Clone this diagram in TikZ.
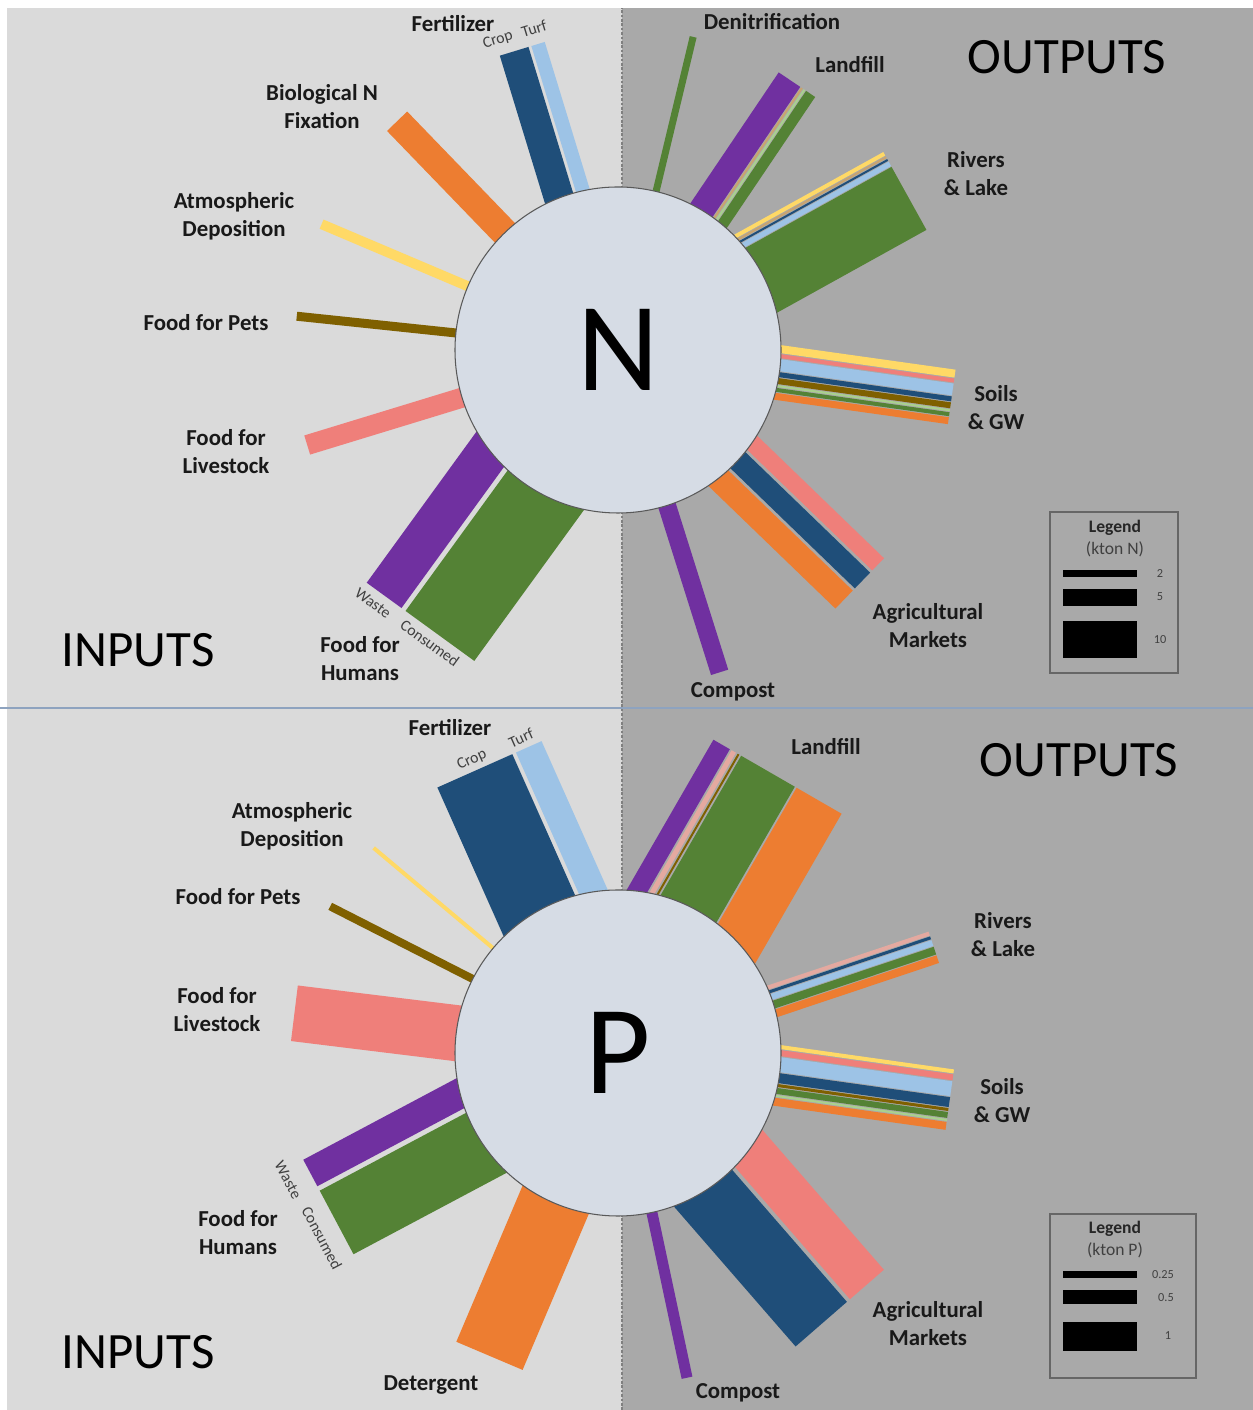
\documentclass[tikz,border=0pt]{standalone}
\usepackage{fontspec}
\setmainfont{Carlito}

\definecolor{leftbg}{HTML}{DADADA}
\definecolor{rightbg}{HTML}{A9A9A9}
\definecolor{core}{HTML}{D6DCE5}
\definecolor{divider}{HTML}{8EA3BF}
\definecolor{fdarkblue}{HTML}{1F4E79}
\definecolor{flightblue}{HTML}{9DC3E6}
\definecolor{forange}{HTML}{ED7D31}
\definecolor{fyellow}{HTML}{FFD966}
\definecolor{fbrown}{HTML}{7F6000}
\definecolor{fsalmon}{HTML}{EF7F7A}
\definecolor{fpurple}{HTML}{7030A0}
\definecolor{fgreen}{HTML}{548235}
\definecolor{flightgreen}{HTML}{A9D18E}
\definecolor{fpink}{HTML}{E4A9A0}
\definecolor{ftan}{HTML}{C9A46E}

% one straight flow bar: centre, angle, length, offset from, offset to, colour
\newcommand{\flowbar}[6]{%
  \fill[#6, shift={(#1)}, rotate=#2] (0,#4) rectangle (#3,#5);}

\begin{document}
\begin{tikzpicture}[x=0.2mm, y=0.2mm]

\tikzstyle{lbl}=[font=\fontsize{13}{16}\selectfont\bfseries, align=center, text=black!90]
\tikzstyle{sub}=[font=\fontsize{9}{10}\selectfont, text=black!75, inner sep=0pt]
\tikzstyle{side}=[font=\fontsize{29}{32}\selectfont, text=black]
\tikzstyle{elem}=[circle, draw=black!65, line width=0.6pt, fill=core, minimum size=65.2mm, inner sep=0pt, font=\fontsize{72}{72}\selectfont]
\tikzstyle{legbox}=[draw=black!60, line width=0.6pt]
\tikzstyle{legtitle}=[font=\fontsize{10}{12}\selectfont\bfseries, text=black!85]
\tikzstyle{legtxt}=[font=\fontsize{10}{12}\selectfont, text=black!75]
\tikzstyle{legnum}=[font=\fontsize{7}{8}\selectfont, text=black!75]

\useasboundingbox (0,0) rectangle (1253,1410);

% --- background ---
\fill[white] (0,0) rectangle (1253,1410);
\fill[leftbg] (7,0) rectangle (622,1402);
\fill[rightbg] (622,0) rectangle (1253,1402);
\draw[divider, line width=0.9pt] (0,702) -- (1253,702);
\draw[black!50, line width=1.4pt, dash pattern=on 1.5pt off 1pt] (622,0) -- (622,1402);

\coordinate (cN) at (618,1060);
\coordinate (cP) at (618,357);

% --- N inputs ---
\flowbar{cN}{107}{316}{-3}{27}{fdarkblue}
\flowbar{cN}{107}{316}{-20}{-6}{flightblue}
\flowbar{cN}{134}{318}{-14}{14}{forange}
\flowbar{cN}{157}{322}{-5}{5}{fyellow}
\flowbar{cN}{174}{323}{-4.5}{4.5}{fbrown}
\flowbar{cN}{197}{325}{-10}{10}{fsalmon}
\flowbar{cN}{234}{336}{-66.5}{-23.5}{fpurple}
\flowbar{cN}{234}{336}{-18.5}{66.5}{fgreen}

% --- N outputs ---
\flowbar{cN}{76.5}{322}{-3.5}{3.5}{fgreen}
\flowbar{cN}{56}{320}{-4}{22}{fpurple}
\flowbar{cN}{56}{320}{-7}{-5}{ftan}
\flowbar{cN}{56}{320}{-10}{-8}{flightgreen}
\flowbar{cN}{56}{320}{-22}{-11}{fgreen}
\flowbar{cN}{29}{328}{40.5}{44.5}{fyellow}
\flowbar{cN}{29}{328}{37.5}{39.5}{ftan}
\flowbar{cN}{29}{328}{34.5}{36.5}{fdarkblue}
\flowbar{cN}{29}{328}{28.5}{33.5}{flightblue}
\flowbar{cN}{29}{328}{-44.5}{27.5}{fgreen}
\flowbar{cN}{-8}{337}{19.5}{27.5}{fyellow}
\flowbar{cN}{-8}{337}{14.5}{18.5}{fsalmon}
\flowbar{cN}{-8}{337}{1.5}{13.5}{flightblue}
\flowbar{cN}{-8}{337}{-4.5}{0.5}{fdarkblue}
\flowbar{cN}{-8}{337}{-11.5}{-5.5}{fbrown}
\flowbar{cN}{-8}{337}{-14.5}{-12.5}{flightgreen}
\flowbar{cN}{-8}{337}{-19.5}{-15.5}{fgreen}
\flowbar{cN}{-8}{337}{-27.5}{-20.5}{forange}
\flowbar{cN}{-44}{336}{18}{35}{fsalmon}
\flowbar{cN}{-44}{336}{-7}{15}{fdarkblue}
\flowbar{cN}{-44}{336}{-35}{-10}{forange}
\flowbar{cN}{-72.5}{338}{-9}{9}{fpurple}

\node[elem] (nN) at (cN) {N};

% --- N labels ---
\node[lbl] (fertN) at (453,1386) {Fertilizer};
\node[sub, rotate=17] (cropN) at (498,1370) {Crop};
\node[sub, rotate=17] (turfN) at (534,1381) {Turf};
\node[lbl] (bnfN) at (322,1303) {Biological N\\Fixation};
\node[lbl] (atmN) at (234,1194) {Atmospheric\\Deposition};
\node[lbl] (petsN) at (206,1087) {Food for Pets};
\node[lbl] (liveN) at (226,958) {Food for\\Livestock};
\node[lbl] (humN) at (360,751) {Food for\\Humans};
\node[sub, rotate=-36] (wasteN) at (373,807) {Waste};
\node[sub, rotate=-36] (consN) at (430,767) {Consumed};
\node[side] (inN) at (138,760) {INPUTS};
\node[lbl] (denN) at (772,1388) {Denitrification};
\node[lbl] (landN) at (850,1345) {Landfill};
\node[side] (outN) at (1067,1353) {OUTPUTS};
\node[lbl] (rivN) at (976,1236) {Rivers\\\& Lake};
\node[lbl] (soilN) at (996,1002) {Soils\\\& GW};
\node[lbl] (agN) at (928,784) {Agricultural\\Markets};
\node[lbl] (compN) at (733,718) {Compost};

% --- N legend ---
\draw[legbox] (1050,898) rectangle (1178,737);
\node[legtitle] (legN) at (1115,882) {Legend};
\node[legtxt] (unitN) at (1115,861) {(kton N)};
\fill[black] (1063,840) rectangle (1137,833);
\fill[black] (1063,821) rectangle (1137,804);
\fill[black] (1063,789) rectangle (1137,752);
\node[legnum] (twoN) at (1160,836) {2};
\node[legnum] (fiveN) at (1160,813) {5};
\node[legnum] (tenN) at (1160,770) {10};

% --- P inputs ---
\flowbar{cP}{114}{316}{-25}{57}{fdarkblue}
\flowbar{cP}{114}{316}{-57}{-29}{flightblue}
\flowbar{cP}{140}{319}{-2}{2}{fyellow}
\flowbar{cP}{153}{323}{-4}{4}{fbrown}
\flowbar{cP}{173}{326}{-28}{28}{fsalmon}
\flowbar{cP}{208}{328}{-53.5}{-23.5}{fpurple}
\flowbar{cP}{208}{328}{-18.5}{53.5}{fgreen}
\flowbar{cP}{247}{329}{-36}{36}{forange}

% --- P outputs ---
\flowbar{cP}{60}{319}{55}{74}{fpurple}
\flowbar{cP}{60}{319}{48}{53}{fpink}
\flowbar{cP}{60}{319}{44}{46}{fbrown}
\flowbar{cP}{60}{319}{-20}{42}{fgreen}
\flowbar{cP}{60}{319}{-74}{-22}{forange}
\flowbar{cP}{18.5}{333}{12.5}{16.5}{fpink}
\flowbar{cP}{18.5}{333}{8.5}{11.5}{fdarkblue}
\flowbar{cP}{18.5}{333}{1.5}{7.5}{flightblue}
\flowbar{cP}{18.5}{333}{-7.5}{0.5}{fgreen}
\flowbar{cP}{18.5}{333}{-16.5}{-8.5}{forange}
\flowbar{cP}{-8}{335}{26.5}{30.5}{fyellow}
\flowbar{cP}{-8}{335}{19.5}{25.5}{fsalmon}
\flowbar{cP}{-8}{335}{3.5}{18.5}{flightblue}
\flowbar{cP}{-8}{335}{-7.5}{2.5}{fdarkblue}
\flowbar{cP}{-8}{335}{-11.5}{-8.5}{fbrown}
\flowbar{cP}{-8}{335}{-18.5}{-12.5}{fgreen}
\flowbar{cP}{-8}{335}{-21.5}{-19.5}{flightgreen}
\flowbar{cP}{-8}{335}{-30.5}{-22.5}{forange}
\flowbar{cP}{-49}{338}{13.5}{58.5}{fsalmon}
\flowbar{cP}{-49}{338}{-58.5}{9.5}{fdarkblue}
\flowbar{cP}{-78}{332}{-5.5}{5.5}{fpurple}

\node[elem] (nP) at (cP) {P};

% --- P labels ---
\node[lbl] (fertP) at (450,682) {Fertilizer};
\node[sub, rotate=24] (cropP) at (472,650) {Crop};
\node[sub, rotate=24] (turfP) at (521,672) {Turf};
\node[lbl] (atmP) at (292,584) {Atmospheric\\Deposition};
\node[lbl] (petsP) at (238,513) {Food for Pets};
\node[lbl] (liveP) at (217,400) {Food for\\Livestock};
\node[lbl] (humP) at (238,177) {Food for\\Humans};
\node[sub, rotate=-62] (wasteP) at (288,230) {Waste};
\node[sub, rotate=-62] (consP) at (322,172) {Consumed};
\node[lbl] (detP) at (431,25) {Detergent};
\node[side] (inP) at (138,58) {INPUTS};
\node[lbl] (landP) at (826,663) {Landfill};
\node[side] (outP) at (1079,650) {OUTPUTS};
\node[lbl] (rivP) at (1003,475) {Rivers\\\& Lake};
\node[lbl] (soilP) at (1002,309) {Soils\\\& GW};
\node[lbl] (agP) at (928,86) {Agricultural\\Markets};
\node[lbl] (compP) at (738,17) {Compost};

% --- P legend ---
\draw[legbox] (1050,196) rectangle (1196,32);
\node[legtitle] (legP) at (1115,181) {Legend};
\node[legtxt] (unitP) at (1115,160) {(kton P)};
\fill[black] (1063,139) rectangle (1137,132);
\fill[black] (1063,120) rectangle (1137,106);
\fill[black] (1063,88) rectangle (1137,59);
\node[legnum] (quarP) at (1163,135) {0.25};
\node[legnum] (halfP) at (1166,112) {0.5};
\node[legnum] (oneP) at (1168,74) {1};

\end{tikzpicture}
\end{document}
